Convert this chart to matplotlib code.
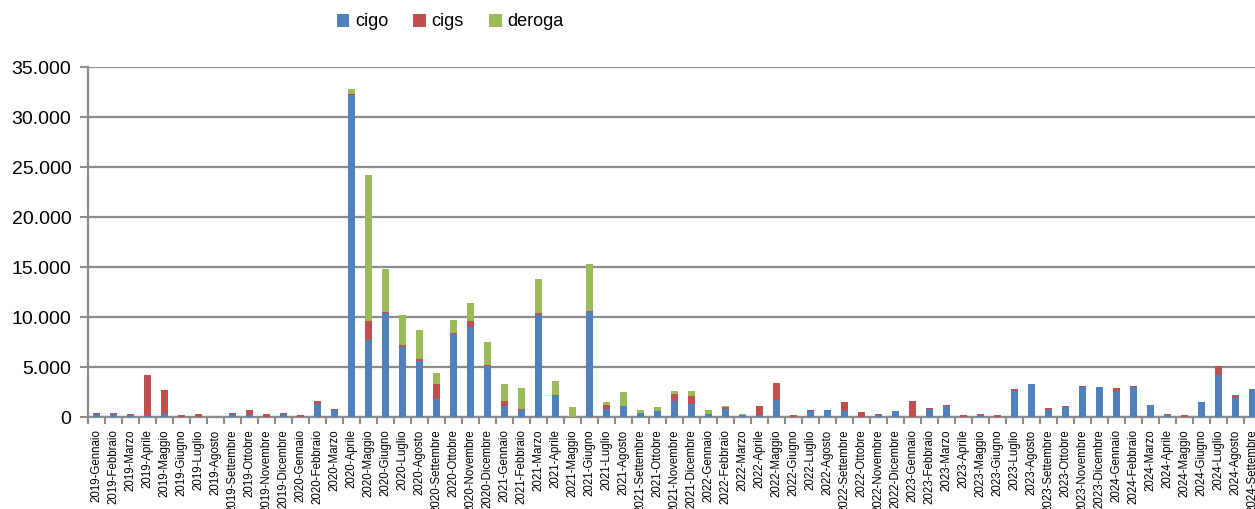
import numpy as np
import matplotlib
matplotlib.use("Agg")
import matplotlib.pyplot as plt
from matplotlib.ticker import FuncFormatter, FixedLocator

plt.rcParams['font.family'] = ['Liberation Sans', 'DejaVu Sans']

# Months, 2019-Gennaio ... 2024-Settembre
mesi = ['Gennaio', 'Febbraio', 'Marzo', 'Aprile', 'Maggio', 'Giugno',
        'Luglio', 'Agosto', 'Settembre', 'Ottobre', 'Novembre', 'Dicembre']
labels = [f'{y}-{m}' for y in range(2019, 2025) for m in mesi][:69]

cigo = [330, 330, 170, 170, 300, 30, 30, 0, 330, 170, 30, 330,
        30, 1330, 700, 32200, 7700, 10370, 7030, 5600, 1800, 8300, 8970, 5130,
        1070, 700, 10200, 2100, 0, 10470, 800, 1100, 430, 570, 1600, 1330,
        330, 830, 200, 170, 1700, 30, 570, 670, 570, 30, 200, 570,
        0, 770, 1100, 30, 170, 30, 2620, 3270, 730, 970, 2970, 2970,
        2600, 2970, 1200, 170, 30, 1470, 4230, 1930, 2800]

cigs = [100, 100, 100, 4030, 2400, 140, 270, 0, 100, 500, 270, 100,
        140, 240, 100, 150, 1900, 160, 170, 200, 1470, 130, 660, 30,
        500, 100, 170, 100, 0, 130, 370, 30, 0, 0, 700, 770,
        0, 140, 0, 930, 1670, 170, 130, 0, 900, 430, 130, 30,
        1600, 100, 100, 170, 170, 170, 170, 0, 140, 130, 130, 0,
        270, 130, 0, 130, 170, 0, 900, 300, 0]

deroga = [0] * 12 + \
         [0, 0, 0, 420, 14570, 4240, 3000, 2900, 1100, 1270, 1740, 2370,
          1700, 2070, 3400, 1400, 970, 4700, 300, 1340, 270, 400, 270, 470,
          340, 130, 130] + [0] * 30

x = np.arange(len(labels))
cigo = np.array(cigo)
cigs = np.array(cigs)
deroga = np.array(deroga)

fig = plt.figure(figsize=(12.55, 5.09), dpi=100)
ax = fig.add_axes([88 / 1255, 92 / 509, 1173 / 1255, 350 / 509])

w = 0.42
ax.bar(x, cigo, w, color='#4F81BD', label='cigo', zorder=3)
ax.bar(x, cigs, w, bottom=cigo, color='#C0504D', label='cigs', zorder=3)
ax.bar(x, deroga, w, bottom=cigo + cigs, color='#9BBB59', label='deroga', zorder=3)

ax.set_xlim(-0.5, len(labels) - 0.5)
ax.set_ylim(0, 35000)
ax.set_yticks(np.arange(0, 35001, 5000))
ax.yaxis.set_major_formatter(FuncFormatter(lambda v, p: f'{int(v):,}'.replace(',', '.')))
ax.grid(axis='y', color='#8c8c8c', linewidth=1.6, zorder=0)
ax.set_axisbelow(True)

ax.set_xticks(x)
ax.set_xticklabels(labels, rotation=90, fontsize=8.3, va='top', ha='center')
ax.xaxis.set_minor_locator(FixedLocator(np.arange(-0.5, len(labels), 1)))
ax.tick_params(axis='x', which='major', length=0, pad=9)
ax.tick_params(axis='x', which='minor', length=5, width=1.5, color='#8c8c8c')
ax.tick_params(axis='y', length=6, width=1.5, color='#8c8c8c', labelsize=14, pad=6)

for s in ['top', 'right']:
    ax.spines[s].set_visible(False)
for s in ['left', 'bottom']:
    ax.spines[s].set_color('#8c8c8c')
    ax.spines[s].set_linewidth(1.6)

fig.legend(loc='center', bbox_to_anchor=(450 / 1255, 1 - 22 / 509), ncol=3,
           frameon=False, fontsize=13, handlelength=0.7, handleheight=0.7,
           handletextpad=0.3, columnspacing=1.4)

fig.savefig('out.png', dpi=100)
